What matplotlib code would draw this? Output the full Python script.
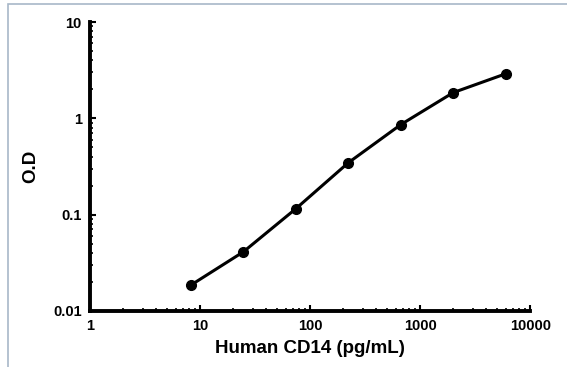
import matplotlib.pyplot as plt
from matplotlib.patches import Rectangle

plt.rcParams['font.family'] = ['Liberation Sans', 'DejaVu Sans']
plt.rcParams['font.weight'] = 'bold'

# standard curve data
conc = [8.23, 24.7, 74.1, 222, 667, 2000, 6000]
od = [0.0185, 0.041, 0.115, 0.345, 0.86, 1.85, 2.9]
xticks = [1, 10, 100, 1000, 10000]
yticks = [0.01, 0.1, 1, 10]
ytick_labels = ['0.01', '0.1', '1', '10']

fig = plt.figure(figsize=(5.67, 3.67), dpi=100)
ax = fig.add_axes([0.159, 0.153, 0.776, 0.787])

# light frame around the whole picture
fig.patches.append(Rectangle((0.014, -0.05), 1.1, 1.039, transform=fig.transFigure,
                             fill=False, edgecolor='#a8b8c8', linewidth=1.2))

ax.plot(conc, od, color='black', linewidth=2.2, marker='o', markersize=7)

ax.set_xscale('log')
ax.set_yscale('log')
ax.set_xlim(1, 10000)
ax.set_ylim(0.01, 10)
ax.set_xticks(xticks)
ax.set_xticklabels([str(t) for t in xticks])
ax.set_yticks(yticks)
ax.set_yticklabels(ytick_labels)

for s in ['top', 'right']:
    ax.spines[s].set_visible(False)
for s in ['left', 'bottom']:
    ax.spines[s].set_linewidth(2.8)

ax.tick_params(which='major', direction='in', length=4, width=1.5, labelsize=10.5, pad=6)
ax.tick_params(which='minor', direction='in', length=2.5, width=1.2)

ax.set_xlabel('Human CD14 (pg/mL)', fontsize=13.5, fontweight='bold', labelpad=5)
ax.set_ylabel('O.D', fontsize=13.5, fontweight='bold', labelpad=10)

fig.savefig('out.png', dpi=100)
